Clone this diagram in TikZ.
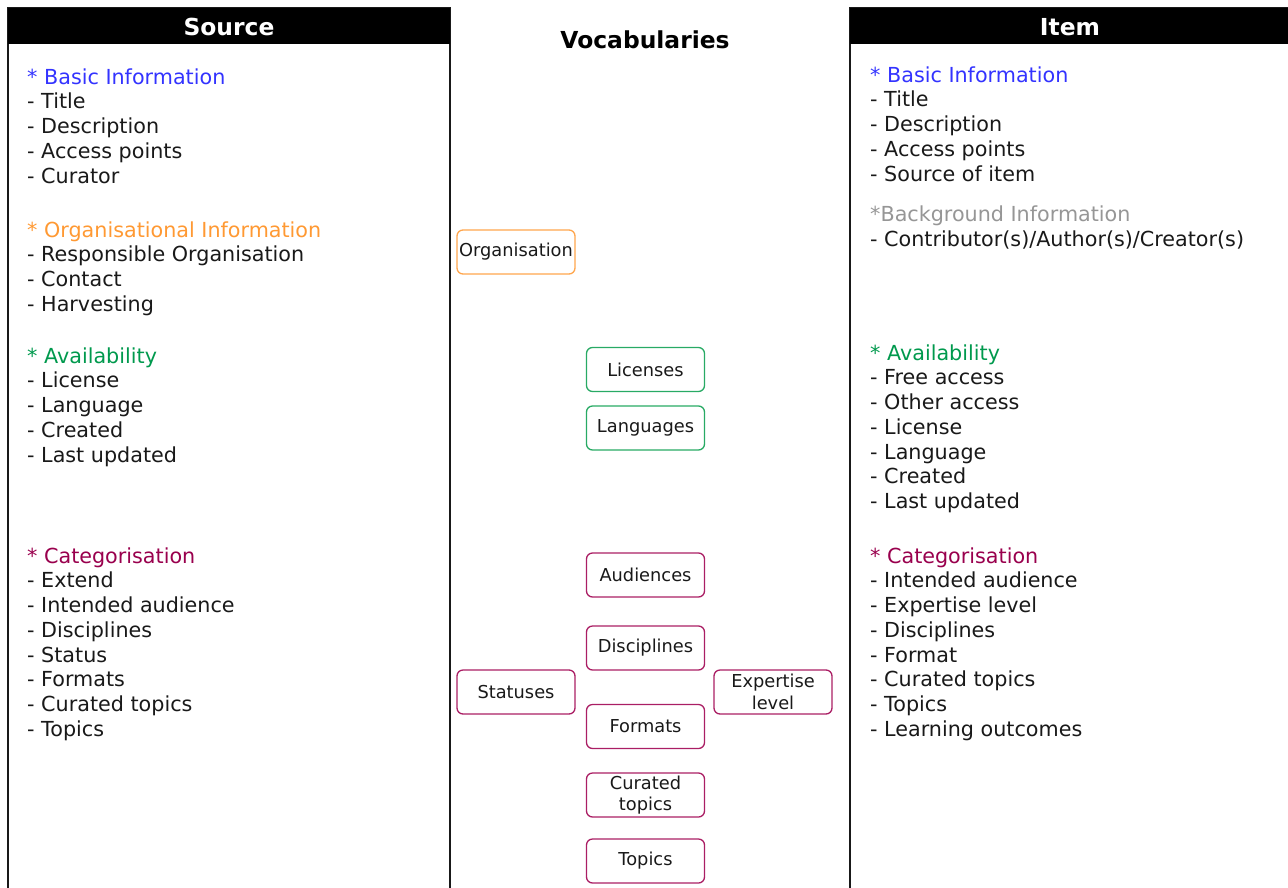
\documentclass[tikz,border=0pt]{standalone}
\usepackage{fontspec}
\setmainfont{DejaVu Sans}
\definecolor{cblue}{RGB}{51,51,255}
\definecolor{corange}{RGB}{255,153,51}
\definecolor{cgreen}{RGB}{0,153,77}
\definecolor{ccat}{RGB}{153,0,77}
\definecolor{cgray}{RGB}{150,150,150}
\definecolor{borange}{RGB}{255,166,77}
\definecolor{bgreen}{RGB}{40,170,100}
\definecolor{bcat}{RGB}{170,30,100}
\tikzset{
  txt/.style={inner sep=0pt, anchor=base west, font=\fontsize{20.7}{24.75}\selectfont, text=black!90},
  hdr/.style={font=\fontsize{23.4}{26}\selectfont\bfseries},
  panel/.style={draw=black!90, line width=2.8pt},
  voc/.style={draw, rounded corners=6pt, line width=1.3pt, minimum width=118pt, minimum height=44pt, inner sep=1pt, align=center, font=\fontsize{17.8}{21.5}\selectfont, text=black!90},
  vorange/.style={voc, draw=borange},
  vgreen/.style={voc, draw=bgreen},
  vcat/.style={voc, draw=bcat}
}
\begin{document}
\begin{tikzpicture}[x=1pt,y=-1pt]
\useasboundingbox (0,0) rectangle (1288,887);
\clip (0,0) rectangle (1288,887);
% panels
\draw[panel] (8,8) rectangle (450,910);
\fill[black] (8,8) rectangle (450,44);
\node[hdr, text=white] (srchead) at (229,27) {Source};
\draw[panel] (850,8) rectangle (1310,910);
\fill[black] (850,8) rectangle (1310,44);
\node[hdr, text=white] (itemhead) at (1070,27) {Item};
\node[hdr, text=black] (vochead) at (645,40) {Vocabularies};
% Source texts
\node[txt, text=cblue] (sbh) at (27,84) {* Basic Information};
\foreach \t [count=\i] in {- Title, - Description, - Access points, - Curator}
  \node[txt] (sb\i) at (27,84+\i*24.9) {\t};
\node[txt, text=corange] (soh) at (27,237) {* Organisational Information};
\foreach \t [count=\i] in {- Responsible Organisation, - Contact, - Harvesting}
  \node[txt] (so\i) at (27,237+\i*24.9) {\t};
\node[txt, text=cgreen] (sah) at (27,363) {* Availability};
\foreach \t [count=\i] in {- License, - Language, - Created, - Last updated}
  \node[txt] (sa\i) at (27,363+\i*24.9) {\t};
\node[txt, text=ccat] (sch) at (27,563) {* Categorisation};
\foreach \t [count=\i] in {- Extend, - Intended audience, - Disciplines, - Status, - Formats, - Curated topics, - Topics}
  \node[txt] (sc\i) at (27,563+\i*24.75) {\t};
% Item texts
\node[txt, text=cblue] (ibh) at (870,82) {* Basic Information};
\foreach \t [count=\i] in {- Title, - Description, - Access points, - Source of item}
  \node[txt] (ib\i) at (870,82+\i*24.9) {\t};
\node[txt, text=cgray] (igh) at (870,221) {*Background Information};
\node[txt] (ig1) at (870,246) {- Contributor(s)/Author(s)/Creator(s)};
\node[txt, text=cgreen] (iah) at (870,360) {* Availability};
\foreach \t [count=\i] in {- Free access, - Other access, - License, - Language, - Created, - Last updated}
  \node[txt] (ia\i) at (870,360+\i*24.75) {\t};
\node[txt, text=ccat] (ich) at (870,563) {* Categorisation};
\foreach \t [count=\i] in {- Intended audience, - Expertise level, - Disciplines, - Format, - Curated topics, - Topics, - Learning outcomes}
  \node[txt] (ic\i) at (870,563+\i*24.75) {\t};
% vocabularies
\node[vorange] (org) at (516,252) {Organisation};
\node[vgreen] (lic) at (645.5,369.5) {Licenses};
\node[vgreen] (lang) at (645.5,428) {Languages};
\node[vcat] (aud) at (645.5,575) {Audiences};
\node[vcat] (disc) at (645.5,648) {Disciplines};
\node[vcat] (stat) at (516,692) {Statuses};
\node[vcat] (exp) at (773,692) {Expertise\\level};
\node[vcat] (fmt) at (645.5,726.5) {\raisebox{-2pt}{Formats}};
\node[vcat] (cur) at (645.5,795) {Curated\\topics};
\node[vcat] (top) at (645.5,861) {Topics};
\end{tikzpicture}
\end{document}
